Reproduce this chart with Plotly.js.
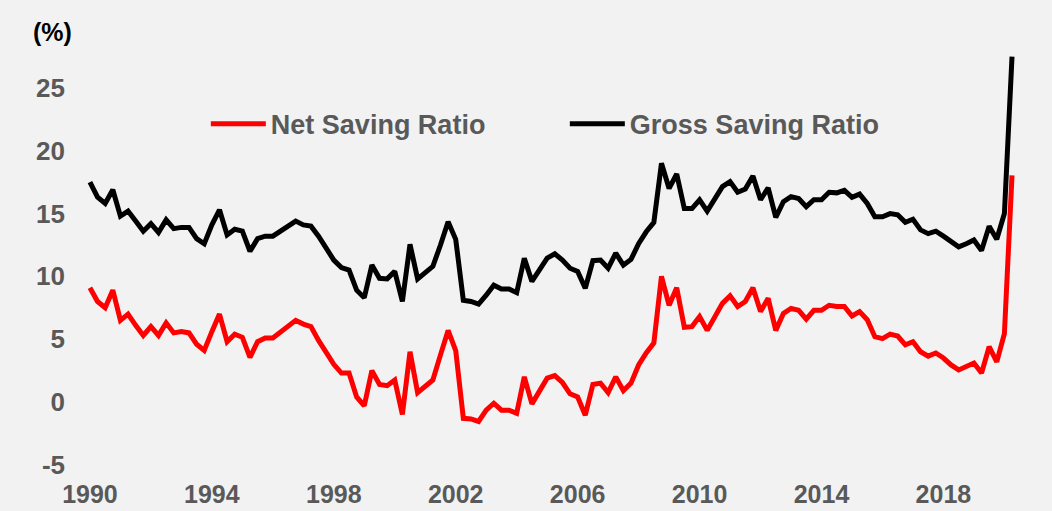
<!DOCTYPE html>
<html>
<head>
<meta charset="utf-8">
<script src="https://cdn.plot.ly/plotly-3.0.1.min.js"></script>
<style>
  html, body { margin: 0; padding: 0; background: #f2f2f2; }
  #chart { width: 1052px; height: 511px; }
</style>
</head>
<body>
<div id="chart"></div>
<script>
// Quarterly data, 1990 Q1 to 2020 Q2
const startYear = 1990;
const seriesNames = ["Net Saving Ratio", "Gross Saving Ratio"];

const netSaving = [
  9.1, 8.0, 7.5, 8.9,
  6.5, 7.0, 6.1, 5.3,
  6.0, 5.3, 6.3, 5.5,
  5.6, 5.5, 4.6, 4.1,
  5.6, 7.0, 4.8, 5.4,
  5.15, 3.55, 4.8, 5.1,
  5.1, 5.6, 6.1, 6.5,
  6.2, 6.0, 4.9, 3.9,
  3.0, 2.3, 2.3, 0.4,
  -0.3, 2.5, 1.4, 1.3,
  1.75, -1.0, 4.0, 0.75,
  1.2, 1.75, 3.75, 5.7,
  4.1, -1.3, -1.35, -1.55,
  -0.65, -0.1, -0.65, -0.65,
  -0.9, 2.0, -0.15, 0.9,
  1.9, 2.1, 1.55, 0.65,
  0.4, -1.05, 1.4, 1.5,
  0.75, 2.0, 0.9, 1.5,
  2.95, 3.9, 4.7, 10.0,
  7.7, 9.1, 5.95, 6.0,
  6.8, 5.7, 6.8, 7.85,
  8.45, 7.6, 8.0, 9.1,
  7.2, 8.25, 5.7, 7.05,
  7.45, 7.3, 6.6, 7.3,
  7.3, 7.7, 7.6, 7.6,
  6.85, 7.2, 6.55, 5.2,
  5.05, 5.4, 5.25, 4.55,
  4.8, 4.0, 3.65, 3.9,
  3.5, 2.95, 2.55, 2.85,
  3.1, 2.3, 4.4, 3.2,
  5.45, 18.05
];

const grossSaving = [
  17.5, 16.3, 15.8, 16.9,
  14.8, 15.2, 14.4, 13.6,
  14.2, 13.5, 14.5, 13.8,
  13.9, 13.9, 13.0, 12.6,
  14.1, 15.3, 13.3, 13.75,
  13.6, 12.0, 13.0, 13.2,
  13.2, 13.6, 14.1, 14.4,
  14.1, 14.0, 13.2, 12.2,
  11.3, 10.7, 10.5, 8.9,
  8.3, 10.9, 9.85, 9.8,
  10.4, 8.0, 12.55, 9.8,
  10.25, 10.8, 12.5, 14.35,
  12.95, 8.1, 8.0, 7.8,
  8.5, 9.3, 9.0, 9.0,
  8.7, 11.45, 9.6, 10.5,
  11.45, 11.8, 11.3, 10.65,
  10.4, 9.05, 11.25, 11.3,
  10.65, 11.85, 10.9, 11.35,
  12.6, 13.55, 14.3, 19.0,
  17.0, 18.15, 15.4, 15.4,
  16.1, 15.2, 16.2, 17.15,
  17.55, 16.7, 16.95, 18.0,
  16.1, 17.05, 14.7, 15.95,
  16.35, 16.2, 15.55, 16.1,
  16.1, 16.7, 16.65, 16.85,
  16.3, 16.55, 15.8, 14.75,
  14.75, 15.0, 14.9, 14.3,
  14.55, 13.7, 13.4, 13.6,
  13.2, 12.75, 12.35, 12.6,
  12.9, 12.05, 14.0, 12.95,
  15.0, 27.5
];

const xTickVals = [1990, 1994, 1998, 2002, 2006, 2010, 2014, 2018];
const xTickText = ["1990", "1994", "1998", "2002", "2006", "2010", "2014", "2018"];
const yTickVals = [-5, 0, 5, 10, 15, 20, 25];
const yTickText = ["-5", "0", "5", "10", "15", "20", "25"];

// time position of each quarter (year + fraction)
const xQuarter = netSaving.map((_, i) => startYear + i / 4);

const fam = "Liberation Sans, Arial, sans-serif";
const yTickFont = { family: fam, size: 26, color: "#595959", weight: "bold" };
const xTickFont = { family: fam, size: 25, color: "#595959", weight: "bold" };

const traces = [
  {
    x: xQuarter, y: netSaving, name: seriesNames[0], type: "scatter", mode: "lines",
    line: { color: "#ff0000", width: 5 }
  },
  {
    x: xQuarter, y: grossSaving, name: seriesNames[1], type: "scatter", mode: "lines",
    line: { color: "#000000", width: 5 }
  }
];

const layout = {
  width: 1052, height: 511,
  paper_bgcolor: "#f2f2f2", plot_bgcolor: "#f2f2f2",
  margin: { l: 75, r: 22, t: 45, b: 31, autoexpand: false },
  showlegend: true,
  legend: {
    orientation: "h", x: 0.137, y: 0.818, xanchor: "left", yanchor: "middle",
    bgcolor: "rgba(0,0,0,0)", font: { family: fam, size: 27, color: "#595959", weight: "bold" },
    entrywidth: 289, entrywidthmode: "pixels", itemwidth: 55
  },
  xaxis: {
    range: [1989.51, 2020.84], tickmode: "array", tickvals: xTickVals, ticktext: xTickText,
    showgrid: false, zeroline: false, showline: false, ticks: "",
    tickfont: xTickFont, ticklabelstandoff: -3
  },
  yaxis: {
    range: [-6.21, 28.42], tickmode: "array", tickvals: yTickVals, ticktext: yTickText,
    showgrid: false, zeroline: false, showline: false, ticks: "",
    tickfont: yTickFont, ticklabelstandoff: 9
  },
  annotations: [
    {
      text: "(%)", xref: "paper", yref: "paper", x: -0.024, y: 1.03, xanchor: "center", yanchor: "middle",
      showarrow: false, font: { family: fam, size: 25, color: "#000000", weight: "bold" }
    }
  ]
};

Plotly.newPlot("chart", traces, layout, { displayModeBar: false, staticPlot: true });
</script>
</body>
</html>
